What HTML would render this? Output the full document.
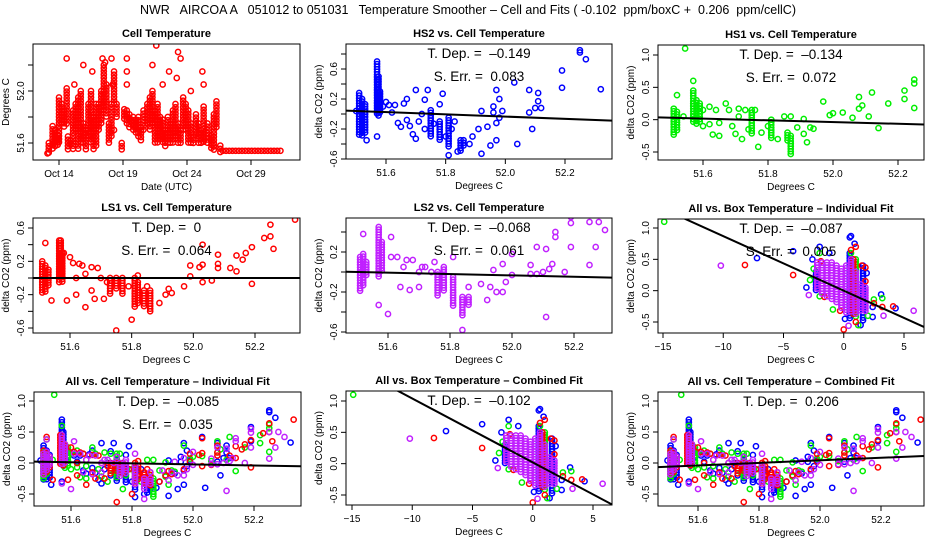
<!DOCTYPE html>
<html><head><meta charset="utf-8">
<style>
html,body{margin:0;padding:0;background:#fff;}
svg{display:block;font-family:"Liberation Sans",Arial,sans-serif;}
svg text{white-space:pre;}
</style></head>
<body>
<svg id="chart" width="936" height="540" viewBox="0 0 936 540" xmlns="http://www.w3.org/2000/svg" xml:space="preserve">
<rect width="936" height="540" fill="#fff"/>
<text x="468" y="14" text-anchor="middle" font-size="12.5">NWR   AIRCOA A   051012 to 051031   Temperature Smoother – Cell and Fits ( -0.102  ppm/boxC +  0.206  ppm/cellC)</text>
</svg>
<script>
// ---------- DATA ----------
// Panel 1: cell temperature time series (day of October, value)
const cellTempCols = [[13.2,51.52,51.6],[13.5,51.55,51.73],[13.7,51.56,51.7],[13.9,51.58,51.66],[14.0,51.6,51.95],[14.2,51.75,51.9],[14.4,51.72,51.85],[14.6,51.75,52.02],[14.7,51.55,51.65],[14.9,51.58,51.62],[15.1,51.55,51.85],[15.3,51.7,51.9],[15.5,51.55,51.95],[15.7,51.6,52.0],[15.9,51.6,51.75],[16.1,51.55,51.7],[16.3,51.65,51.9],[16.5,51.6,52.0],[16.7,51.55,51.8],[16.9,51.58,51.9],[17.1,51.7,51.9],[17.3,51.75,52.0],[17.5,51.85,52.2],[17.7,51.8,52.05],[17.9,51.6,51.75],[18.1,51.65,51.9],[18.3,51.9,52.15],[18.5,51.8,51.9],[18.9,51.55,51.6],[19.1,51.78,51.86],[19.3,51.75,51.85],[19.5,51.72,51.82],[19.8,51.7,51.8],[20.0,51.68,51.78],[20.2,51.65,51.8],[20.4,51.62,51.72],[20.6,51.7,51.85],[20.9,51.75,51.9],[21.1,51.7,51.95],[21.3,51.75,52.0],[21.5,51.6,51.85],[21.7,51.6,51.9],[21.9,51.62,51.8],[22.1,51.6,51.78],[22.3,51.56,51.7],[22.5,51.58,51.8],[22.7,51.58,51.75],[22.9,51.6,51.85],[23.1,51.65,51.9],[23.3,51.6,51.75],[23.5,51.58,51.7],[23.7,51.7,51.95],[23.9,51.7,51.9],[24.1,51.6,51.85],[24.3,51.58,51.75],[24.5,51.58,51.65],[24.7,51.65,51.82],[24.9,51.6,51.75],[25.1,51.58,51.7],[25.3,51.6,51.88],[25.6,51.6,51.75],[25.9,51.56,51.66],[26.1,51.55,51.82],[26.3,51.7,51.92],[26.6,51.52,51.58]];
const cellTempFlat = [[26.8,31.5,51.54]];
const cellTempPts = [[13.1,51.52],[14.6,52.25],[15.2,52.05],[15.9,52.2],[16.6,52.15],[17.1,52.4],[17.4,52.4],[17.4,52.25],[18.1,52.25],[18.3,51.7],[19.3,52.25],[19.3,52.15],[19.3,52.05],[21.6,52.35],[22.6,52.15],[23.3,52.3],[23.2,52.1],[23.5,52.25],[25.2,52.15],[25.3,52.05],[24.3,52.0],[21.3,52.2],[22.1,52.05],[17.6,52.22],[18.2,52.05]];
const dateTicks = [14,19,24,29];
const dateLabels = ["Oct 14","Oct 19","Oct 24","Oct 29"];

// HS2 (blue) vs cell temperature
const hs2Cols = [[51.51,-0.28,0.28],[51.52,-0.3,0.2],[51.53,-0.25,0.1],[51.57,0.0,0.7],[51.575,-0.05,0.5],[51.58,0.0,0.3],[51.75,-0.3,0.05],[51.78,-0.35,-0.1],[51.81,-0.45,-0.05],[51.85,-0.5,-0.35],[51.86,-0.45,-0.35]];
const hs2Pts = [[51.5,0.04],[51.53,0.13],[51.535,-0.35],[51.57,-0.3],[51.59,0.1],[51.6,0.16],[51.61,0.12],[51.62,0.02],[51.63,0.12],[51.64,-0.12],[51.65,-0.17],[51.66,0.14],[51.67,0.2],[51.67,-0.08],[51.68,-0.16],[51.69,-0.27],[51.7,0.32],[51.7,-0.33],[51.71,-0.1],[51.72,0.0],[51.73,0.19],[51.74,0.32],[51.73,-0.2],[51.76,-0.13],[51.78,0.13],[51.79,0.27],[51.8,-0.3],[51.81,-0.55],[51.82,-0.2],[51.83,-0.1],[51.84,-0.5],[51.88,-0.4],[51.89,-0.3],[51.91,-0.2],[51.92,0.04],[51.92,-0.53],[51.94,-0.17],[51.95,-0.42],[51.96,0.1],[51.97,0.32],[51.98,0.2],[51.97,-0.35],[51.97,-0.12],[51.99,0.04],[52.03,0.42],[52.04,-0.4],[52.08,0.32],[52.08,0.02],[52.09,-0.2],[52.11,0.28],[52.11,0.17],[52.12,0.08],[52.19,0.58],[52.19,0.35],[52.25,0.85],[52.25,0.82],[52.27,0.73],[52.32,0.33],[51.98,-0.05],[51.96,0.02],[52.1,0.08]];
// HS1 (green)
const hs1Cols = [[51.51,-0.25,0.17],[51.52,-0.2,0.12],[51.57,-0.05,0.45],[51.58,-0.08,0.3],[51.59,-0.05,0.25],[51.75,-0.25,0.15],[51.81,-0.3,0.0],[51.86,-0.35,-0.2],[51.87,-0.55,-0.25]];
const hs1Pts = [[51.545,1.1],[51.52,0.38],[51.54,0.05],[51.57,0.6],[51.6,0.15],[51.6,-0.1],[51.62,0.2],[51.62,-0.07],[51.63,-0.23],[51.64,0.15],[51.65,-0.05],[51.65,-0.25],[51.67,0.25],[51.68,0.15],[51.69,-0.1],[51.7,-0.22],[51.71,0.17],[51.71,0.05],[51.72,-0.3],[51.73,0.15],[51.74,-0.15],[51.76,0.15],[51.77,-0.42],[51.78,-0.2],[51.8,-0.1],[51.83,-0.3],[51.85,0.05],[51.87,0.05],[51.89,-0.12],[51.91,0.01],[51.91,-0.22],[51.92,-0.35],[51.93,-0.12],[51.94,-0.14],[51.97,0.28],[51.99,0.07],[52.0,0.1],[52.03,0.11],[52.06,0.03],[52.08,0.35],[52.08,0.17],[52.09,0.22],[52.11,0.05],[52.12,0.42],[52.14,-0.13],[52.17,0.25],[52.22,0.45],[52.22,0.32],[52.25,0.62],[52.25,0.56],[52.25,0.18]];
// LS1 (red)
const ls1Cols = [[51.51,-0.2,0.2],[51.52,-0.18,0.15],[51.53,-0.1,0.1],[51.565,-0.05,0.45],[51.57,0.0,0.45],[51.575,-0.05,0.3],[51.73,-0.2,0.0],[51.75,-0.15,0.0],[51.77,-0.2,0.0],[51.81,-0.35,0.0],[51.82,-0.3,-0.05],[51.84,-0.35,-0.15],[51.86,-0.4,-0.15]];
const ls1Pts = [[51.52,0.42],[51.54,-0.27],[51.58,0.3],[51.59,-0.27],[51.6,0.25],[51.61,0.18],[51.62,-0.2],[51.62,0.0],[51.63,0.17],[51.64,0.15],[51.65,0.05],[51.65,-0.35],[51.67,0.13],[51.67,-0.15],[51.68,-0.25],[51.69,0.12],[51.7,0.0],[51.71,-0.25],[51.72,-0.05],[51.75,-0.63],[51.79,-0.1],[51.8,-0.5],[51.82,0.03],[51.85,-0.1],[51.89,-0.3],[51.91,-0.2],[51.92,-0.13],[51.93,-0.18],[51.97,-0.1],[51.99,0.15],[51.99,0.02],[52.02,0.13],[52.03,0.16],[52.03,-0.05],[52.06,-0.03],[52.08,0.28],[52.08,0.17],[52.08,0.12],[52.12,0.12],[52.14,0.08],[52.14,0.27],[52.16,0.22],[52.17,0.3],[52.19,0.37],[52.19,-0.07],[52.23,0.48],[52.25,0.5],[52.25,0.64],[52.26,0.35],[52.33,0.7],[52.03,0.4]];
// LS2 (purple)
const ls2Cols = [[51.51,-0.2,0.15],[51.52,-0.15,0.18],[51.53,-0.05,0.1],[51.57,-0.05,0.45],[51.58,0.0,0.3],[51.76,-0.25,0.0],[51.78,-0.2,0.05],[51.81,-0.35,-0.05],[51.84,-0.45,-0.25],[51.86,-0.35,-0.25]];
const ls2Pts = [[51.52,0.38],[51.57,-0.33],[51.6,-0.42],[51.61,0.35],[51.61,0.15],[51.63,0.15],[51.64,-0.15],[51.65,0.05],[51.66,0.12],[51.67,-0.18],[51.68,0.12],[51.7,0.0],[51.7,-0.15],[51.71,0.05],[51.72,0.05],[51.74,0.0],[51.75,0.1],[51.81,0.15],[51.84,-0.58],[51.86,-0.15],[51.9,-0.12],[51.92,-0.28],[51.93,-0.15],[51.95,-0.2],[51.94,0.02],[51.97,0.08],[51.97,-0.2],[51.98,-0.1],[52.0,0.18],[52.0,-0.03],[52.06,0.07],[52.06,-0.02],[52.08,-0.02],[52.08,0.25],[52.1,0.0],[52.11,0.23],[52.11,-0.45],[52.12,0.03],[52.13,0.08],[52.14,0.4],[52.14,0.35],[52.17,0.0],[52.19,0.55],[52.19,0.49],[52.19,0.25],[52.25,0.07],[52.25,0.5],[52.27,0.25],[52.28,0.5],[52.3,0.42]];
// Box temperature data (all series)
const boxBlueCols = [[0.5,-0.45,0.6],[-2.3,0.0,0.3],[1.6,-0.5,0.4]];
const boxBluePts = [[-7.2,0.52],[-4.2,0.63],[-3.1,0.05],[-2.6,0.5],[-2.0,0.7],[-1.2,0.6],[0.5,0.85],[0.6,0.87],[0.9,0.75],[1.9,0.28],[3.1,-0.06],[4.3,-0.28],[2.4,-0.42],[0.1,-0.45],[1.4,-0.55],[2.4,-0.26]];
const boxGreenCols = [[1.0,-0.45,0.5]];
const boxGreenPts = [[-14.9,1.1],[-2.8,0.17],[-2.5,0.35],[-2.0,0.6],[0.6,0.6],[3.2,-0.12],[2.5,-0.14],[1.2,-0.55],[-2.0,-0.09],[-0.9,-0.3],[2.0,-0.4]];
const boxRedCols = [[0.8,-0.4,0.5]];
const boxRedPts = [[-8.2,0.41],[-4.2,0.25],[-1.6,-0.1],[1.0,0.7],[0.6,0.65],[1.8,0.37],[1.5,0.4],[3.2,-0.26],[4.1,-0.25],[0,-0.62],[1.0,-0.5],[-0.3,-0.32],[-1.9,0.47],[1.8,0.15],[2.5,-0.2]];
const boxPurpleCols = [[-2.2,0.0,0.45],[-1.8,-0.05,0.45],[-1.4,-0.1,0.45],[-1.0,-0.15,0.45],[-0.6,-0.2,0.4],[-0.2,-0.3,0.35],[0.2,-0.35,0.4],[0.6,-0.35,0.5],[1.0,-0.4,0.3],[1.4,-0.35,0.1],[1.8,-0.35,0.05]];
const boxPurplePts = [[-10.2,0.4],[-2.9,-0.07],[0.4,-0.56],[3.3,-0.4],[5.8,-0.32]];
// Fits: slope and intercept (intercept at x=51.5 for cell panels, x=0 for box panels)
const fitSlopes = [-0.149,-0.134,0,-0.068,-0.087,-0.085,-0.102,0.206];
const fitIntercepts = [0.04,0.03,0.0,0.0,0.0,0.02,0.02,-0.06];
const tDepLabels = ["-0.149","-0.134","0","-0.068","-0.087","-0.085","-0.102","0.206"];
const sErrLabels = ["0.083","0.072","0.064","0.061","0.005","0.035","",""];

const RED="#ff0000",BLUE="#0000ff",GREEN="#00ee00",PURP="#c020ff";
const NS="http://www.w3.org/2000/svg";
const svg=document.getElementById('chart');
function el(tag,parent){const e=document.createElementNS(NS,tag);parent.appendChild(e);return e;}
function lin(v1,p1,v2,p2){return v=>p1+(v-v1)*(p2-p1)/(v2-v1);}
function inv(v1,p1,v2,p2){return p=>v1+(p-p1)*(v2-v1)/(p2-p1);}

function makePanel(cfg){
  const g=el('g',svg);
  
  
  const {x0,x1,y0,y1}=cfg;
  const cid='clip-'+cfg.name;
  const cp=el('clipPath',g);cp.setAttribute('id',cid);
  const cr=el('rect',cp);cr.setAttribute('x',x0);cr.setAttribute('y',y0);cr.setAttribute('width',x1-x0);cr.setAttribute('height',y1-y0);
  const t=el('text',g);
  
  
  t.setAttribute('x',(x0+x1)/2);t.setAttribute('y',y0-7);t.setAttribute('text-anchor','middle');
  t.setAttribute('font-size','11');t.setAttribute('font-weight','bold');t.textContent=cfg.title;
  const px=lin(...cfg.xm),py=lin(...cfg.ym);
  const xa=el('g',g);
  
  
  cfg.xticks.forEach((v,i)=>{
    const x=px(v);
    const l=el('line',xa);l.setAttribute('x1',x);l.setAttribute('x2',x);l.setAttribute('y1',y1);l.setAttribute('y2',y1+5);l.setAttribute('stroke','#000');
    const tx=el('text',xa);
    
    
    tx.setAttribute('x',x);tx.setAttribute('y',y1+17);tx.setAttribute('text-anchor','middle');tx.setAttribute('font-size','10');
    tx.textContent=cfg.xlabels[i];
  });
  const xt=el('text',g);
  
  
  xt.setAttribute('x',(x0+x1)/2);xt.setAttribute('y',y1+30);xt.setAttribute('text-anchor','middle');xt.setAttribute('font-size','10');xt.textContent=cfg.xtitle;
  const ya=el('g',g);
  
  
  cfg.yticks.forEach(v=>{
    const y=py(v);
    const l=el('line',ya);l.setAttribute('x1',x0-5);l.setAttribute('x2',x0);l.setAttribute('y1',y);l.setAttribute('y2',y);l.setAttribute('stroke','#000');
  });
  cfg.ylabels.forEach(v=>{
    const y=py(v);
    const tx=el('text',ya);
    
    
    tx.setAttribute('transform',`translate(${x0-9},${y}) rotate(-90)`);
    tx.setAttribute('text-anchor','middle');tx.setAttribute('font-size','10');
    tx.textContent=v.toFixed(1);
  });
  const yt=el('text',g);
  
  
  yt.setAttribute('transform',`translate(${x0-24},${(y0+y1)/2}) rotate(-90)`);
  yt.setAttribute('text-anchor','middle');yt.setAttribute('font-size','10');yt.textContent=cfg.ytitle;
  const mg=el('g',g);mg.setAttribute('clip-path',`url(#${cid})`);
  
  
  const step=cfg.step||2.6;
  function dot(x,y,c){const ci=el('circle',mg);ci.setAttribute('cx',x);ci.setAttribute('cy',y);ci.setAttribute('r',2.6);ci.setAttribute('fill','none');ci.setAttribute('stroke',c);ci.setAttribute('stroke-width',1.5);}
  (cfg.series||[]).forEach(s=>{
    (s.cols||[]).forEach(c=>{const X=px(c[0]),a=py(c[2]),b=py(c[1]);for(let y=a;y<=b+0.1;y+=step)dot(X,y,s.color);});
    (s.flat||[]).forEach(f=>{const a=px(f[0]),b=px(f[1]),Y=py(f[2]);for(let x=a;x<=b+0.1;x+=step)dot(x,Y,s.color);});
    (s.pts||[]).forEach(p=>dot(px(p[0]),py(p[1]),s.color));
  });
  if(cfg.fit!==undefined){
    const ix=inv(...cfg.xm);const m=fitSlopes[cfg.fit],b=fitIntercepts[cfg.fit],ref=cfg.ref;
    const va=ix(x0),vb=ix(x1);
    const fl=el('line',mg);
    
    
    fl.setAttribute('x1',x0);fl.setAttribute('x2',x1);
    fl.setAttribute('y1',py(b+m*(va-ref)));fl.setAttribute('y2',py(b+m*(vb-ref)));
    fl.setAttribute('stroke','#000');fl.setAttribute('stroke-width',2);
    const cx=(x0+x1)/2;
    const a1=el('text',g);
    
    
    a1.setAttribute('x',cx);a1.setAttribute('y',y0+14);a1.setAttribute('text-anchor','middle');a1.setAttribute('font-size','13.5');
    a1.textContent='T. Dep. =  '+tDepLabels[cfg.fit].replace('-','–');
    if(sErrLabels[cfg.fit]){
      const a2=el('text',g);
      
      
      a2.setAttribute('x',cx);a2.setAttribute('y',y0+37);a2.setAttribute('text-anchor','middle');a2.setAttribute('font-size','13.5');
      a2.textContent='S. Err. =  '+sErrLabels[cfg.fit];
    }
  }
  const br=el('rect',g);
  
  
  br.setAttribute('x',x0);br.setAttribute('y',y0);br.setAttribute('width',x1-x0);br.setAttribute('height',y1-y0);
  br.setAttribute('fill','none');br.setAttribute('stroke','#000');br.setAttribute('stroke-width',1);
}
const cellX=[51.6,51.8,52.0,52.2],cellXL=["51.6","51.8","52.0","52.2"];
const boxX=[-15,-10,-5,0,5],boxXL=["-15","-10","-5","0","5"].map(s=>s.replace('-','−'));
const all=[{color:BLUE,cols:hs2Cols,pts:hs2Pts},{color:GREEN,cols:hs1Cols,pts:hs1Pts},{color:RED,cols:ls1Cols,pts:ls1Pts},{color:PURP,cols:ls2Cols,pts:ls2Pts}];
const allBox=[{color:BLUE,cols:boxBlueCols,pts:boxBluePts},{color:GREEN,cols:boxGreenCols,pts:boxGreenPts},{color:RED,cols:boxRedCols,pts:boxRedPts},{color:PURP,cols:boxPurpleCols,pts:boxPurplePts}];
const DC="delta CO2 (ppm)";
makePanel({name:'cell-temperature-panel',title:'Cell Temperature',x0:33,x1:300,y0:44,y1:160,xm:[14,59,29,251],ym:[51.6,143,52.0,91],xticks:dateTicks,xlabels:dateLabels,yticks:[51.6,51.8,52.0,52.2],ylabels:[51.6,52.0],xtitle:'Date (UTC)',ytitle:'Degrees C',step:3.2,series:[{color:RED,cols:cellTempCols,flat:cellTempFlat,pts:cellTempPts}]});
makePanel({name:'hs2-panel',title:'HS2 vs. Cell Temperature',x0:346,x1:612,y0:44,y1:159,xm:[51.6,386,52.2,565],ym:[0.6,69,-0.6,159],xticks:cellX,xlabels:cellXL,yticks:[-0.6,-0.4,-0.2,0,0.2,0.4,0.6,0.8],ylabels:[-0.6,-0.2,0.2,0.6],xtitle:'Degrees C',ytitle:DC,series:[all[0]],fit:0,ref:51.5});
makePanel({name:'hs1-panel',title:'HS1 vs. Cell Temperature',x0:658,x1:924,y0:45,y1:160,xm:[51.6,703,52.2,898],ym:[1.0,55,-0.5,152],xticks:cellX,xlabels:cellXL,yticks:[-0.5,0,0.5,1.0],ylabels:[-0.5,0,0.5,1.0],xtitle:'Degrees C',ytitle:DC,series:[all[1]],fit:1,ref:51.5});
makePanel({name:'ls1-panel',title:'LS1 vs. Cell Temperature',x0:33,x1:300,y0:218,y1:333,xm:[51.6,70,52.2,255],ym:[0.6,228,-0.6,328],xticks:cellX,xlabels:cellXL,yticks:[-0.6,-0.4,-0.2,0,0.2,0.4,0.6],ylabels:[-0.6,-0.2,0.2,0.6],xtitle:'Degrees C',ytitle:DC,series:[all[2]],fit:2,ref:51.5});
makePanel({name:'ls2-panel',title:'LS2 vs. Cell Temperature',x0:346,x1:612,y0:218,y1:333,xm:[51.6,388,52.2,574],ym:[0.2,252,-0.6,332],xticks:cellX,xlabels:cellXL,yticks:[-0.6,-0.4,-0.2,0,0.2,0.4],ylabels:[-0.6,-0.2,0.2],xtitle:'Degrees C',ytitle:DC,series:[all[3]],fit:3,ref:51.5});
makePanel({name:'all-box-individual-panel',title:'All vs. Box Temperature – Individual Fit',x0:658,x1:924,y0:219,y1:333,xm:[-15,663,5,904],ym:[1.0,228,-0.5,322],xticks:boxX,xlabels:boxXL,yticks:[-0.5,0,0.5,1.0],ylabels:[-0.5,0,0.5,1.0],xtitle:'Degrees C',ytitle:DC,series:allBox,fit:4,ref:0});
makePanel({name:'all-cell-individual-panel',title:'All vs. Cell Temperature – Individual Fit',x0:34,x1:301,y0:392,y1:506,xm:[51.6,71,52.2,254],ym:[1.0,401,-0.5,494],xticks:cellX,xlabels:cellXL,yticks:[-0.5,0,0.5,1.0],ylabels:[-0.5,0,0.5,1.0],xtitle:'Degrees C',ytitle:DC,series:all,fit:5,ref:51.5});
makePanel({name:'all-box-combined-panel',title:'All vs. Box Temperature – Combined Fit',x0:346,x1:612,y0:391,y1:505,xm:[-15,352,5,593],ym:[1.0,401,-0.5,495],xticks:boxX,xlabels:boxXL,yticks:[-0.5,0,0.5,1.0],ylabels:[-0.5,0,0.5,1.0],xtitle:'Degrees C',ytitle:DC,series:allBox,fit:6,ref:0});
makePanel({name:'all-cell-combined-panel',title:'All vs. Cell Temperature – Combined Fit',x0:658,x1:924,y0:392,y1:506,xm:[51.6,698,52.2,881],ym:[1.0,401,-0.5,494],xticks:cellX,xlabels:cellXL,yticks:[-0.5,0,0.5,1.0],ylabels:[-0.5,0,0.5,1.0],xtitle:'Degrees C',ytitle:DC,series:all,fit:7,ref:51.5});
</script>
</body></html>
